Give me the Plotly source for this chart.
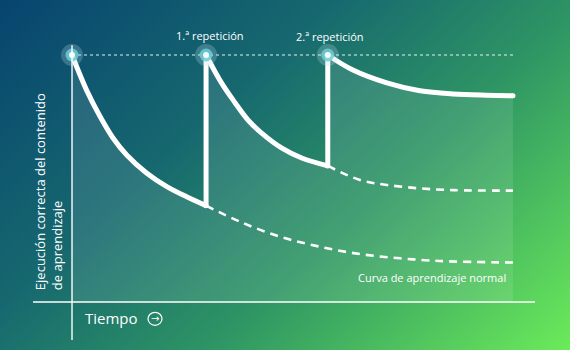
import base64
import plotly.graph_objects as go

# Time axis (arbitrary units) and retention (% of correct recall)
REP_TIMES = [0.0, 3.04, 5.8]
PEAK = 100

# Solid curve segments, one per study session
seg1_t = [0.0, 0.33, 0.64, 0.93, 1.24, 1.69, 2.15, 2.60, 3.04]
seg1_p = [100, 85.8, 75.0, 66.4, 59.5, 52.2, 46.7, 42.6, 39.0]
seg2_t = [3.04, 3.39, 3.70, 3.99, 4.30, 4.76, 5.21, 5.80]
seg2_p = [100, 88.7, 80.6, 73.7, 68.4, 62.3, 58.3, 55.1]
seg3_t = [5.80, 6.37, 7.14, 7.89, 8.64, 9.40, 10.0]
seg3_p = [100, 93.9, 88.7, 85.5, 84.2, 83.7, 83.5]

# Forgetting without further review (dashed)
fade1_t = [3.04, 3.81, 4.72, 5.62, 6.53, 7.44, 8.34, 10.0]
fade1_p = [39.0, 32.5, 26.4, 22.4, 19.4, 17.7, 16.6, 16.0]
fade2_t = [5.80, 6.53, 7.14, 7.89, 8.64, 10.0]
fade2_p = [55.1, 49.4, 47.4, 46.0, 45.3, 45.1]

LABELS = ["1.ª repetición", "2.ª repetición"]
Y_TITLE = "Ejecución correcta del contenido<br>de aprendizaje"
X_TITLE = "Tiempo"
NORMAL_LABEL = "Curva de aprendizaje normal"

FONT = "Open Sans"
WHITE = "#ffffff"

# Diagonal gradient backdrop as an inline SVG
svg = (
    '<svg xmlns="http://www.w3.org/2000/svg" width="570" height="350">'
    '<defs><linearGradient id="g" gradientUnits="userSpaceOnUse" '
    'x1="0" y1="0" x2="436" y2="474">'
    '<stop offset="0" stop-color="#07446f"/>'
    '<stop offset="0.35" stop-color="#16686f"/>'
    '<stop offset="0.62" stop-color="#2e9564"/>'
    '<stop offset="1" stop-color="#6ceb5a"/>'
    '</linearGradient></defs>'
    '<rect width="570" height="350" fill="url(#g)"/></svg>'
)
bg_src = "data:image/svg+xml;base64," + base64.b64encode(svg.encode()).decode()

fig = go.Figure()

# Light area under the reviewed curve
fill_t = seg1_t + seg2_t + seg3_t
fill_p = seg1_p + seg2_p + seg3_p
fig.add_trace(go.Scatter(
    x=fill_t, y=fill_p, mode="lines", fill="tozeroy",
    fillcolor="rgba(255,255,255,0.10)", line=dict(width=0),
    hoverinfo="skip", showlegend=False,
))

# Peak reference line
fig.add_trace(go.Scatter(
    x=[REP_TIMES[0], seg3_t[-1]], y=[PEAK, PEAK], mode="lines",
    line=dict(color="rgba(255,255,255,0.6)", width=1.3, dash="dot"),
    hoverinfo="skip", showlegend=False,
))

# Dashed forgetting curves
for tt, pp in [(fade1_t, fade1_p), (fade2_t, fade2_p)]:
    fig.add_trace(go.Scatter(
        x=tt, y=pp, mode="lines",
        line=dict(color=WHITE, width=2.6, dash="8px,6px", shape="spline"),
        hoverinfo="skip", showlegend=False,
    ))

# Solid curves
for tt, pp in [(seg1_t, seg1_p), (seg2_t, seg2_p), (seg3_t, seg3_p)]:
    fig.add_trace(go.Scatter(
        x=tt, y=pp, mode="lines",
        line=dict(color=WHITE, width=5, shape="spline"),
        hoverinfo="skip", showlegend=False,
    ))

# Vertical jumps at each review
for t_rep, low in [(seg1_t[-1], seg1_p[-1]), (seg2_t[-1], seg2_p[-1])]:
    fig.add_trace(go.Scatter(
        x=[t_rep, t_rep], y=[low, PEAK], mode="lines",
        line=dict(color=WHITE, width=5),
        hoverinfo="skip", showlegend=False,
    ))

# Round joints at the bottom corners and the curve end
fig.add_trace(go.Scatter(
    x=[seg1_t[-1], seg2_t[-1], seg3_t[-1]],
    y=[seg1_p[-1], seg2_p[-1], seg3_p[-1]],
    mode="markers", marker=dict(size=5, color=WHITE),
    hoverinfo="skip", showlegend=False,
))

# Glowing peak markers
peaks_y = [PEAK] * len(REP_TIMES)
fig.add_trace(go.Scatter(
    x=REP_TIMES, y=peaks_y, mode="markers",
    marker=dict(size=22, color="rgba(190,225,230,0.25)"),
    hoverinfo="skip", showlegend=False,
))
fig.add_trace(go.Scatter(
    x=REP_TIMES, y=peaks_y, mode="markers",
    marker=dict(size=13, color="rgba(110,205,215,0.85)"),
    hoverinfo="skip", showlegend=False,
))
fig.add_trace(go.Scatter(
    x=REP_TIMES, y=peaks_y, mode="markers",
    marker=dict(size=6, color="#f2fbfc"),
    hoverinfo="skip", showlegend=False,
))

# Axis lines
fig.add_shape(type="line", x0=-0.884, x1=10.5, y0=0, y1=0,
              line=dict(color=WHITE, width=1.4))
fig.add_shape(type="line", x0=0, x1=0, y0=-15.4, y1=104,
              line=dict(color=WHITE, width=1.4))

# Arrow icon after the time label
fig.add_shape(type="circle", x0=1.723, x1=2.041, y0=-9.43, y1=-4.17,
              line=dict(color=WHITE, width=1.2))

annotations = [
    dict(x=REP_TIMES[1] + 0.09, y=PEAK + 7.7, text=LABELS[0],
         font=dict(size=11, color=WHITE, family=FONT)),
    dict(x=REP_TIMES[2] + 0.04, y=PEAK + 7.3, text=LABELS[1],
         font=dict(size=11, color=WHITE, family=FONT)),
    dict(x=9.88, y=10.1, text=NORMAL_LABEL, xanchor="right",
         font=dict(size=11, color=WHITE, family=FONT)),
    dict(x=0.25, y=-6.3, text=X_TITLE, xanchor="left",
         font=dict(size=15, color=WHITE, family=FONT)),
    dict(x=1.886, y=-6.6, text="→",
         font=dict(size=10, color=WHITE, family="DejaVu Sans")),
    dict(x=-0.533, y=4.0, text=Y_TITLE, textangle=-90, align="left",
         yanchor="bottom", font=dict(size=13, color=WHITE, family=FONT)),
]
for a in annotations:
    a.update(showarrow=False, xref="x", yref="y")

fig.update_layout(
    width=570, height=350,
    margin=dict(l=0, r=0, t=0, b=0),
    paper_bgcolor="rgba(0,0,0,0)",
    plot_bgcolor="rgba(0,0,0,0)",
    images=[dict(source=bg_src, xref="paper", yref="paper", x=0, y=1,
                 sizex=1, sizey=1, sizing="stretch", xanchor="left",
                 yanchor="top", layer="below")],
    xaxis=dict(range=[-1.633, 11.293], visible=False, fixedrange=True),
    yaxis=dict(range=[-19.43, 122.27], visible=False, fixedrange=True),
    annotations=annotations,
    showlegend=False,
)

fig.write_html("out.html")
